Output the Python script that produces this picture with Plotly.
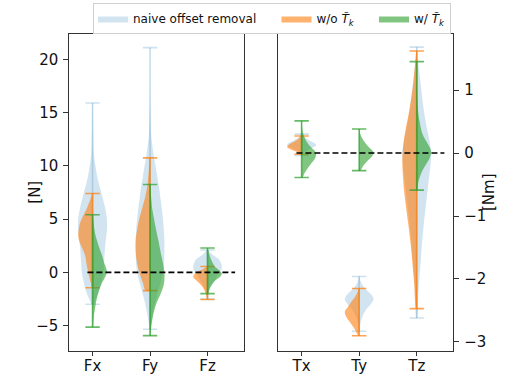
import plotly.graph_objects as go

# ---------------- data ----------------
CATS_F = ["Fx", "Fy", "Fz"]
CATS_T = ["Tx", "Ty", "Tz"]
Y_TICKS_F = [-5, 0, 5, 10, 15, 20]
Y_TICKS_T = [-3, -2, -1, 0, 1]

# density profiles: (value, relative half-width 0..1), from max to min
FX_NAIVE = [(15.9, .02), (13, .05), (11, .1), (10, .2), (9, .32), (8, .5), (7, .7), (6, .88), (5, 1.0),
            (4, 1.0), (3, .92), (2, .85), (1, .8), (0, .75), (-1, .6), (-2, .4), (-2.6, .2), (-3.0, .05)]
FX_WO = [(7.4, .03), (7.0, .12), (6.5, .25), (6.0, .4), (5.2, .7), (4.5, .9), (3.5, 1.0), (3.0, .95),
         (2.25, .72), (1.5, .5), (1.0, .45), (0.0, .3), (-0.5, .22), (-1.0, .12), (-1.45, .04)]
FX_W = [(5.4, .02), (4.5, .08), (3.5, .2), (2.5, .42), (1.5, .68), (1.0, .78), (0.5, .92), (0.0, 1.0),
        (-0.5, .85), (-1.0, .65), (-1.5, .5), (-2.0, .38), (-3.0, .22), (-4.0, .1), (-5.15, .02)]

FY_NAIVE = [(21.1, .01), (16, .02), (13, .08), (12, .15), (11, .25), (10, .38), (9, .5), (8, .62), (7, .72),
            (6, .82), (5, .9), (4, .96), (3, 1.0), (2, 1.0), (1, .98), (0, .9), (-1, .72), (-2, .52),
            (-3, .33), (-4, .18), (-5, .06), (-5.35, .02)]
FY_WO = [(10.75, .03), (10, .06), (9, .12), (8, .2), (7, .35), (6, .55), (5, .75), (4, .9), (3, 1.0),
         (2, 1.0), (1, .92), (0, .75), (-1, .5), (-1.72, .3)]
FY_W = [(8.25, .02), (7, .08), (6, .15), (5, .28), (4, .42), (3, .58), (2, .72), (1, .88), (0, 1.0),
        (-1, .98), (-2, .75), (-3, .42), (-4, .22), (-5, .1), (-5.95, .02)]

FZ_NAIVE = [(2.1, .05), (1.8, .25), (1.5, .5), (1.2, .8), (0.8, .95), (0.5, 1.0), (0.2, .95), (0.0, .8),
            (-0.5, .6), (-1.0, .4), (-1.5, .2), (-2.0, .08), (-2.5, .02)]
FZ_WO = [(0.55, .05), (0.3, .3), (0.0, .75), (-0.4, 1.0), (-0.8, .75), (-1.2, .45), (-1.6, .25),
         (-2.0, .12), (-2.55, .02)]
FZ_W = [(2.28, .02), (1.8, .1), (1.2, .25), (0.6, .48), (0.2, .8), (-0.1, 1.0), (-0.4, .9), (-0.7, .6),
        (-1.0, .38), (-1.5, .15), (-2.0, .03)]

TX_NAIVE = [(0.30, .05), (0.25, .2), (0.2, .55), (0.15, .95), (0.12, 1.0), (0.08, .7), (0.04, .35),
            (0.0, .12), (-0.04, .03)]
TX_WO = [(0.27, .05), (0.22, .25), (0.17, .6), (0.12, .95), (0.09, 1.0), (0.05, .7), (0.02, .35),
         (-0.02, .08)]
TX_W = [(0.51, .01), (0.4, .04), (0.3, .12), (0.2, .3), (0.1, .62), (0.03, .92), (-0.03, 1.0),
        (-0.1, .9), (-0.17, .65), (-0.25, .4), (-0.32, .2), (-0.39, .06)]

TY_NAIVE = [(-1.96, .03), (-2.05, .12), (-2.15, .4), (-2.25, .85), (-2.32, 1.0), (-2.4, .8), (-2.48, .5),
            (-2.56, .3), (-2.65, .15), (-2.75, .06), (-2.83, .02)]
TY_WO = [(-2.15, .03), (-2.25, .2), (-2.35, .5), (-2.45, .8), (-2.52, 1.0), (-2.6, .9), (-2.7, .6),
         (-2.8, .3), (-2.9, .05)]
TY_W = [(0.38, .02), (0.3, .08), (0.2, .3), (0.1, .65), (0.03, .95), (0.0, 1.0), (-0.05, .9),
        (-0.12, .6), (-0.2, .3), (-0.28, .08)]

TZ_NAIVE = [(1.68, .02), (1.4, .12), (1.2, .22), (1.0, .32), (0.7, .48), (0.4, .7), (0.2, .88), (0.0, 1.0),
            (-0.2, .95), (-0.5, .8), (-0.8, .65), (-1.1, .5), (-1.4, .38), (-1.7, .28), (-2.0, .18),
            (-2.3, .1), (-2.62, .03)]
TZ_WO = [(1.62, .03), (1.4, .12), (1.2, .2), (1.0, .3), (0.7, .5), (0.4, .75), (0.2, .9), (-0.1, 1.0),
         (-0.4, .95), (-0.6, .88), (-0.9, .72), (-1.2, .55), (-1.5, .4), (-1.8, .28), (-2.1, .17),
         (-2.47, .05)]
TZ_W = [(1.45, .01), (1.0, .02), (0.7, .08), (0.5, .2), (0.3, .4), (0.15, .75), (0.03, 1.0), (-0.08, .9),
        (-0.18, .65), (-0.3, .35), (-0.45, .12), (-0.59, .03)]

ZERO_SPAN = (-0.09, 2.48)

NAIVE_F = [FX_NAIVE, FY_NAIVE, FZ_NAIVE]
WO_F = [FX_WO, FY_WO, FZ_WO]
W_F = [FX_W, FY_W, FZ_W]
NAIVE_T = [TX_NAIVE, TY_NAIVE, TZ_NAIVE]
WO_T = [TX_WO, TY_WO, TZ_WO]
W_T = [TX_W, TY_W, TZ_W]

# ---------------- styling ----------------
HALF_W = 0.25
CAP_W = 0.125
FONT = "DejaVu Sans"
PAD = "\u00a0" * 4
SERIES = [
    ("naive offset removal" + PAD, "full", "rgba(31,119,180,0.2)", "rgba(31,119,180,0.22)"),
    ("w/o <i>T̃</i><sub><i>k</i></sub>" + PAD, "left", "rgba(255,127,14,0.6)", "rgba(255,127,14,0.72)"),
    ("w/ <i>T̃</i><sub><i>k</i></sub>", "right", "rgba(44,160,44,0.6)", "rgba(44,160,44,0.72)"),
]

fig = go.Figure()


def body(pos, prof, side):
    ys = [v for v, _ in prof]
    ws = [w * HALF_W for _, w in prof]
    if side == "full":
        xs = [pos + w for w in ws] + [pos - w for w in ws[::-1]]
        yy = ys + ys[::-1]
    elif side == "left":
        xs = [pos - w for w in ws] + [pos] * len(ys)
        yy = ys + ys[::-1]
    else:
        xs = [pos + w for w in ws] + [pos] * len(ys)
        yy = ys + ys[::-1]
    return xs, yy


def whisk(pos, prof):
    hi, lo = prof[0][0], prof[-1][0]
    xs = [pos, pos, None, pos - CAP_W, pos + CAP_W, None, pos - CAP_W, pos + CAP_W]
    ys = [lo, hi, None, hi, hi, None, lo, lo]
    return xs, ys


groups = [("x", "y", [NAIVE_F, WO_F, W_F]), ("x2", "y2", [NAIVE_T, WO_T, W_T])]
for gi, (xa, ya, sets) in enumerate(groups):
    for si, (name, side, fillc, linec) in enumerate(SERIES):
        for pos, prof in enumerate(sets[si]):
            xs, ys = body(pos, prof, side)
            fig.add_trace(go.Scatter(
                x=xs, y=ys, xaxis=xa, yaxis=ya, mode="lines", fill="toself",
                fillcolor=fillc, line=dict(width=0, color=fillc, shape="spline", smoothing=0.9),
                name=name, legendgroup=name,
                showlegend=(gi == 0 and pos == 0), hoverinfo="skip"))
        wx, wy = [], []
        for pos, prof in enumerate(sets[si]):
            a, b = whisk(pos, prof)
            wx += a + [None]
            wy += b + [None]
        fig.add_trace(go.Scatter(x=wx, y=wy, xaxis=xa, yaxis=ya, mode="lines",
                                 line=dict(color=linec, width=1.6), showlegend=False,
                                 hoverinfo="skip"))
    fig.add_trace(go.Scatter(x=list(ZERO_SPAN), y=[0, 0], xaxis=xa, yaxis=ya, mode="lines",
                             line=dict(color="black", width=1.7, dash="6px,3px"),
                             showlegend=False, hoverinfo="skip"))

W, H = 514, 376
xd1 = [69.3 / W, 244 / W]
xd2 = [278.3 / W, 453.3 / W]
yd = [1 - 351 / H, 1 - 34 / H]
XR = [-0.405, 2.635]
axis_common = dict(showgrid=False, zeroline=False, showline=True, mirror=True, automargin=False,
                   linecolor="#333", linewidth=1, ticks="outside", tickwidth=1,
                   tickcolor="#333", tickfont=dict(family=FONT, size=15, color="#111"))
x_common = dict(ticklen=4, ticklabelstandoff=-3, **axis_common)
y_common = dict(ticklen=5, ticklabelstandoff=2, **axis_common)

fig.update_layout(
    width=W, height=H, margin=dict(l=0, r=0, t=0, b=0, autoexpand=False),
    paper_bgcolor="white", plot_bgcolor="white",
    font=dict(family=FONT, color="#111"),
    xaxis=dict(domain=xd1, range=XR, tickvals=[0, 1, 2], ticktext=CATS_F, anchor="y", **x_common),
    yaxis=dict(domain=yd, range=[-7.39, 22.38], tickvals=Y_TICKS_F, anchor="x", **y_common),
    xaxis2=dict(domain=xd2, range=XR, tickvals=[0, 1, 2], ticktext=CATS_T, anchor="y2", **x_common),
    yaxis2=dict(domain=yd, range=[-3.143, 1.889], tickvals=Y_TICKS_T, anchor="x2", side="right",
                **y_common),
    legend=dict(orientation="h", x=272 / W, xanchor="center", y=1 - 3 / H, yanchor="top",
                font=dict(family=FONT, size=12, color="#111"), bordercolor="#d0d0d0",
                borderwidth=1, bgcolor="rgba(255,255,255,0.9)", itemwidth=30),
    annotations=[
        dict(text="[N]", xref="paper", yref="paper", x=23.7 / W, y=1 - 192 / H, showarrow=False,
             textangle=-90, font=dict(family=FONT, size=15, color="#111")),
        dict(text="[Nm]", xref="paper", yref="paper", x=500 / W, y=1 - 192 / H, showarrow=False,
             textangle=-90, font=dict(family=FONT, size=15, color="#111")),
    ],
)

fig.write_html("out.html", config={"displayModeBar": False},
               post_script="document.body.style.margin='0';document.body.style.padding='0';")
